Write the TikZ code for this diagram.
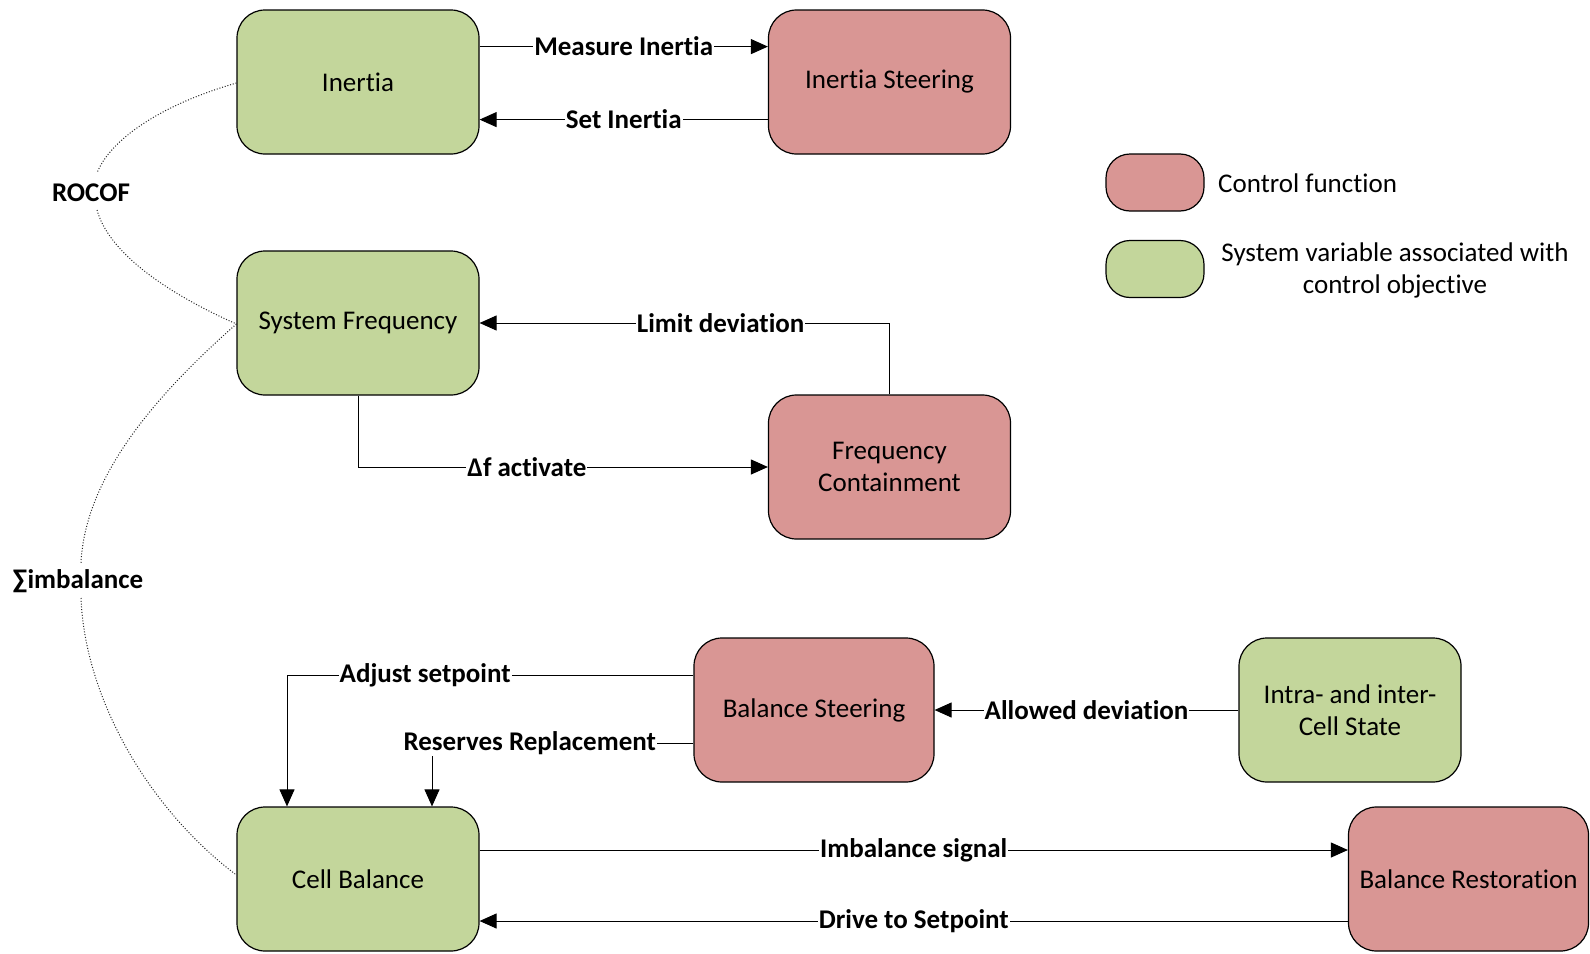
\documentclass[tikz,border=0pt]{standalone}
\usepackage{fontspec}
\setmainfont{Carlito}[RawFeature={-liga;-clig;-dlig;-calt}]
\usetikzlibrary{arrows.meta}
\definecolor{cfred}{HTML}{D99694}
\definecolor{svgreen}{HTML}{C3D69B}
\tikzset{
  box/.style={draw=black, line width=1.2pt, rounded corners=28pt, minimum width=242pt, minimum height=144pt, align=center, font=\fontsize{27}{32.5}\selectfont, inner sep=2pt},
  redbox/.style={box, fill=cfred},
  greenbox/.style={box, fill=svgreen},
  legbox/.style={draw=black, line width=1.2pt, rounded corners=24pt, minimum width=98pt, minimum height=57pt},
  conn/.style={line width=1pt, draw=black},
  arr/.style={conn, -{Triangle[length=17pt,width=15pt]}},
  lbl/.style={fill=white, inner sep=1pt, font=\fontsize{27}{32.5}\selectfont\bfseries},
  dots/.style={draw=black!85, line width=1pt, dash pattern=on 1pt off 1.8pt},
  legtxt/.style={font=\fontsize{27}{32.5}\selectfont, align=center, inner sep=0pt}
}
\begin{document}
\begin{tikzpicture}[x=1pt,y=-1pt]
\useasboundingbox (0,0) rectangle (1590,953);

% boxes
\node[greenbox] (inertia) at (358,82) {Inertia};
\node[redbox] (steer) at (889.5,82) {Inertia Steering};
\node[greenbox] (sf) at (358,323) {System Frequency};
\node[redbox] (fc) at (889.5,467) {Frequency\\Containment};
\node[redbox, minimum width=240pt] (bs) at (814,710) {Balance Steering};
\node[greenbox, minimum width=222pt] (intra) at (1350,710) {Intra- and inter-\\Cell State};
\node[greenbox] (cb) at (358,879) {Cell Balance};
\node[redbox, minimum width=240pt] (br) at (1468.5,879) {Balance Restoration};

% legend
\node[legbox, fill=cfred] (lred) at (1155,182.5) {};
\node[legbox, fill=svgreen] (lgreen) at (1155,269) {};
\node[legtxt, anchor=west] (tred) at (1218,183) {Control function};
\node[legtxt] (tgreen) at (1395,270.5) {System variable associated with\\control objective};

% connectors
\draw[arr] ([yshift=35.4pt]inertia.east) -- node[lbl]{Measure Inertia} ([yshift=35.4pt]steer.west);
\draw[arr] ([yshift=-37.6pt]steer.west) -- node[lbl]{Set Inertia} ([yshift=-37.6pt]inertia.east);
\draw[arr] (fc.north) |- node[lbl, pos=0.706]{Limit deviation} (sf.east);
\draw[arr] (sf.south) |- node[lbl, pos=0.706]{Δf activate} (fc.west);
\draw[arr] ([yshift=35pt]bs.west) -| node[lbl, pos=0.33]{Adjust setpoint} ([xshift=-71pt]cb.north);
\draw[arr] ([yshift=-33pt]bs.west) -| node[lbl, pos=0.313]{Reserves Replacement} ([xshift=74pt]cb.north);
\draw[arr] (intra.west) -- node[lbl]{Allowed deviation} (bs.east);
\draw[arr] ([yshift=29pt]cb.east) -- node[lbl]{Imbalance signal} ([yshift=29pt]br.west);
\draw[arr] ([yshift=-42pt]br.west) -- node[lbl]{Drive to Setpoint} ([yshift=-42pt]cb.east);

% dotted relations
\node[lbl] (rocof) at (91,193) {ROCOF};
\node[lbl] (sumimb) at (78,581) {∑imbalance};
\coordinate (r1) at (97,173);
\coordinate (r2) at (97,210);
\coordinate (s1) at (81,563);
\coordinate (s2) at (81,598);
\draw[dots] ([yshift=-1pt]inertia.west) .. controls (160,105) and (110,140) .. (r1);
\draw[dots] (r2) .. controls (108,250) and (160,290) .. ([yshift=-1pt]sf.west);
\draw[dots] ([yshift=-1pt]sf.west) .. controls (150,400) and (85,480) .. (s1);
\draw[dots] (s2) .. controls (85,700) and (150,810) .. ([yshift=4pt]cb.west);
\end{tikzpicture}
\end{document}
